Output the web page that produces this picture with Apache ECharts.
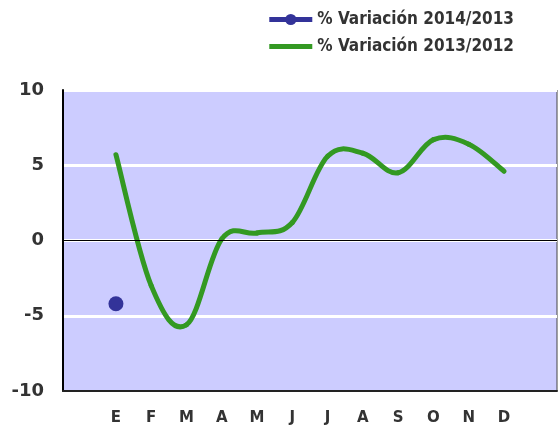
<!DOCTYPE html>
<html>
<head>
<meta charset="utf-8">
<script src="https://cdn.jsdelivr.net/npm/echarts@6/dist/echarts.min.js"></script>
<style>
  html, body { margin: 0; padding: 0; background: #fff; }
  #chart { width: 559px; height: 432px; }
</style>
</head>
<body>
<div id="chart"></div>
<script>
  // meses, con un hueco vacío a cada lado como en el original
  const months = ['', 'E', 'F', 'M', 'A', 'M', 'J', 'J', 'A', 'S', 'O', 'N', 'D', ''];
  const var2014 = [null, -4.2, null, null, null, null, null, null, null, null, null, null, null, null];
  const var2013 = [null, 5.7, -3.0, -5.6, 0.1, 0.5, 1.2, 5.6, 5.8, 4.5, 6.7, 6.4, 4.6, null];
  const yTicks = { min: -10, max: 10, step: 5 };

  const GREEN = '#339922';
  const BLUE = '#333399';
  const TENSION = 0.18;

  // curva suavizada tipo Excel (Catmull-Rom pasado a Bezier), tramo a tramo
  const renderSmooth = (params, api) => {
    const i = params.dataIndex;
    const valid = k => k >= 0 && k < var2013.length && var2013[k] != null;
    if (!valid(i) || !valid(i + 1)) return null;
    const pt = k => api.coord([k, var2013[k]]);
    const p1 = pt(i);
    const p2 = pt(i + 1);
    const p0 = valid(i - 1) ? pt(i - 1) : p1;
    const p3 = valid(i + 2) ? pt(i + 2) : p2;
    return {
      type: 'bezierCurve',
      shape: {
        x1: p1[0], y1: p1[1],
        x2: p2[0], y2: p2[1],
        cpx1: p1[0] + (p2[0] - p0[0]) * TENSION,
        cpy1: p1[1] + (p2[1] - p0[1]) * TENSION,
        cpx2: p2[0] - (p3[0] - p1[0]) * TENSION,
        cpy2: p2[1] - (p3[1] - p1[1]) * TENSION
      },
      style: { fill: null, stroke: GREEN, lineWidth: 5, lineCap: 'round' }
    };
  };

  const chart = echarts.init(document.getElementById('chart'));

  chart.setOption({
    animation: false,
    legend: {
      orient: 'vertical',
      right: 40,
      top: 6,
      itemWidth: 43,
      itemHeight: 14,
      itemGap: 10,
      lineStyle: { width: 5 },
      textStyle: {
        fontFamily: 'DejaVu Sans Condensed',
        fontWeight: 'bold',
        fontSize: 17,
        color: '#333'
      },
      data: [
        { name: '% Variación 2014/2013' },
        { name: '% Variación 2013/2012', icon: 'path://M0,0L43,0L43,5L0,5Z', itemStyle: { color: GREEN } }
      ]
    },
    grid: {
      left: 63,
      right: 2,
      top: 90,
      bottom: 41,
      show: true,
      backgroundColor: '#ccccff',
      borderColor: '#444',
      borderWidth: 1
    },
    xAxis: {
      type: 'category',
      data: months,
      boundaryGap: true,
      axisLine: { onZero: false, lineStyle: { color: '#222', width: 2 } },
      axisTick: { show: false },
      axisLabel: {
        margin: 20,
        interval: 0,
        fontFamily: 'DejaVu Sans',
        fontWeight: 'bold',
        fontSize: 15,
        color: '#333'
      },
      splitLine: { show: false }
    },
    yAxis: {
      type: 'value',
      min: yTicks.min,
      max: yTicks.max,
      interval: yTicks.step,
      axisLine: { show: true, lineStyle: { color: '#000', width: 2 } },
      axisTick: { show: false },
      axisLabel: {
        margin: 19,
        fontFamily: 'DejaVu Sans',
        fontWeight: 'bold',
        fontSize: 18,
        color: '#333'
      },
      splitLine: { show: true, lineStyle: { color: '#fff', width: 3 } }
    },
    series: [
      {
        name: '% Variación 2014/2013',
        type: 'line',
        data: var2014,
        symbol: 'circle',
        symbolSize: 15,
        itemStyle: { color: BLUE },
        lineStyle: { color: BLUE, width: 5 },
        markLine: {
          silent: true,
          symbol: 'none',
          label: { show: false },
          lineStyle: { color: '#000', width: 1, type: 'solid' },
          data: [{ yAxis: 0 }]
        },
        z: 2
      },
      {
        name: '% Variación 2013/2012',
        type: 'custom',
        renderItem: renderSmooth,
        itemStyle: { color: GREEN },
        encode: { x: 0, y: 1 },
        data: var2013.map((v, i) => [i, v]),
        z: 3
      }
    ]
  });
</script>
</body>
</html>
